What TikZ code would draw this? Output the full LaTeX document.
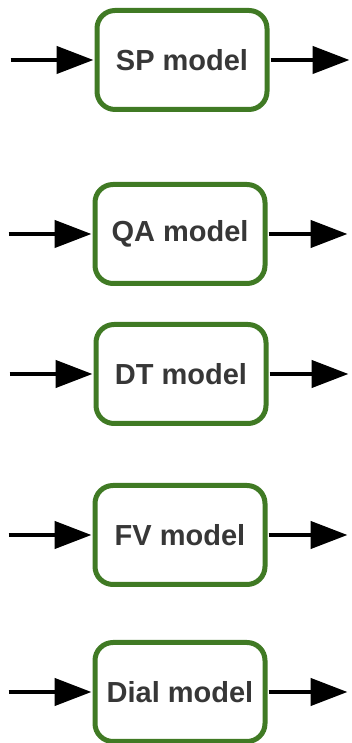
\documentclass[tikz,border=0pt]{standalone}
\usepackage{fontspec}
\setmainfont{Liberation Sans}
\usetikzlibrary{arrows.meta}
\definecolor{boxgreen}{RGB}{64,122,36}
\definecolor{labelgray}{RGB}{55,55,55}
\tikzset{
  modelbox/.style={draw=boxgreen, line width=5pt, rounded corners=18pt, fill=white,
    minimum width=170pt, minimum height=99pt, inner sep=0pt,
    font=\fontsize{29}{32}\selectfont\bfseries, text=labelgray},
  flow/.style={line width=4.5pt, -{Triangle[length=37pt,width=27pt]}}
}
\begin{document}
\begin{tikzpicture}[x=1pt,y=1pt]
  \useasboundingbox (0,0) rectangle (351,743);
  % model boxes (y measured from the bottom edge)
  \node[modelbox] (sp)   at (182,683) {SP model};
  \node[modelbox] (qa)   at (180,509) {QA model};
  \node[modelbox] (dt)   at (181,369) {DT model};
  \node[modelbox] (fv)   at (180,208) {FV model};
  \node[modelbox] (dial) at (180,51)  {Dial model};
  % free ends of the input and output arrows
  \foreach \b in {sp,qa,dt,fv,dial}{
    \coordinate (\b-in)  at ([xshift=-84pt]\b.west);
    \coordinate (\b-out) at ([xshift=80pt]\b.east);
    \draw[flow] (\b-in) -- ([xshift=-1pt]\b.west);
    \draw[flow] ([xshift=1pt]\b.east) -- (\b-out);
  }
\end{tikzpicture}
\end{document}
